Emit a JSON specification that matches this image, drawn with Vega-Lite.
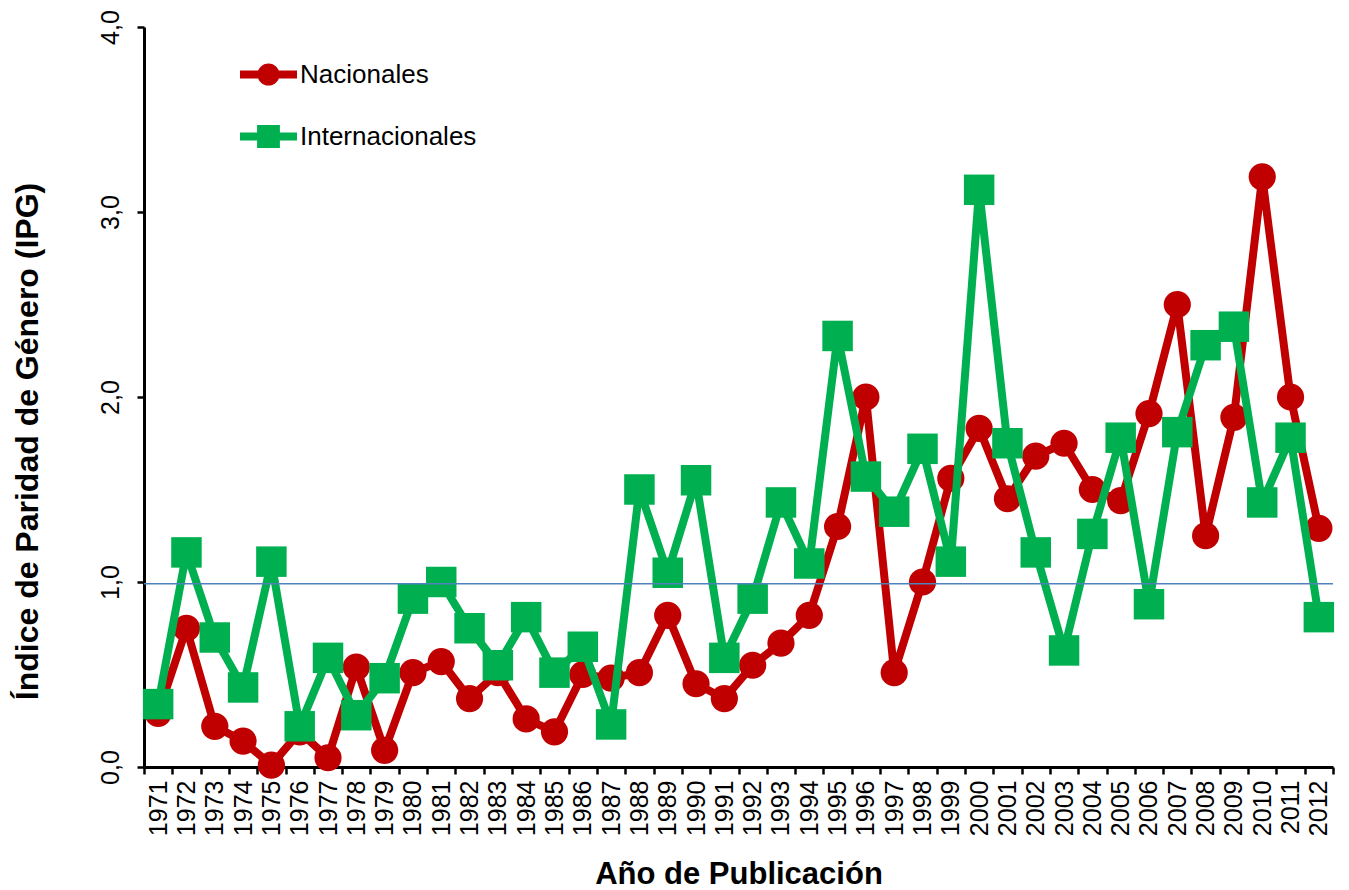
{
  "$schema": "https://vega.github.io/schema/vega-lite/v6.json",
  "width": 1189,
  "height": 740,
  "autosize": "none",
  "padding": {"left": 144, "top": 27, "right": 16, "bottom": 123},
  "background": "white",
  "config": {"view": {"stroke": null}, "font": "Liberation Sans"},
  "data": {
    "values": [
      {"year": "1971", "serie": "Nacionales", "ipg": 0.29},
      {"year": "1972", "serie": "Nacionales", "ipg": 0.75},
      {"year": "1973", "serie": "Nacionales", "ipg": 0.22},
      {"year": "1974", "serie": "Nacionales", "ipg": 0.14},
      {"year": "1975", "serie": "Nacionales", "ipg": 0.01},
      {"year": "1976", "serie": "Nacionales", "ipg": 0.19},
      {"year": "1977", "serie": "Nacionales", "ipg": 0.05},
      {"year": "1978", "serie": "Nacionales", "ipg": 0.54},
      {"year": "1979", "serie": "Nacionales", "ipg": 0.09},
      {"year": "1980", "serie": "Nacionales", "ipg": 0.51},
      {"year": "1981", "serie": "Nacionales", "ipg": 0.57},
      {"year": "1982", "serie": "Nacionales", "ipg": 0.37},
      {"year": "1983", "serie": "Nacionales", "ipg": 0.51},
      {"year": "1984", "serie": "Nacionales", "ipg": 0.26},
      {"year": "1985", "serie": "Nacionales", "ipg": 0.19},
      {"year": "1986", "serie": "Nacionales", "ipg": 0.5},
      {"year": "1987", "serie": "Nacionales", "ipg": 0.48},
      {"year": "1988", "serie": "Nacionales", "ipg": 0.51},
      {"year": "1989", "serie": "Nacionales", "ipg": 0.82},
      {"year": "1990", "serie": "Nacionales", "ipg": 0.45},
      {"year": "1991", "serie": "Nacionales", "ipg": 0.37},
      {"year": "1992", "serie": "Nacionales", "ipg": 0.55},
      {"year": "1993", "serie": "Nacionales", "ipg": 0.67},
      {"year": "1994", "serie": "Nacionales", "ipg": 0.82},
      {"year": "1995", "serie": "Nacionales", "ipg": 1.3},
      {"year": "1996", "serie": "Nacionales", "ipg": 2.0},
      {"year": "1997", "serie": "Nacionales", "ipg": 0.51},
      {"year": "1998", "serie": "Nacionales", "ipg": 1.0},
      {"year": "1999", "serie": "Nacionales", "ipg": 1.56},
      {"year": "2000", "serie": "Nacionales", "ipg": 1.83},
      {"year": "2001", "serie": "Nacionales", "ipg": 1.45},
      {"year": "2002", "serie": "Nacionales", "ipg": 1.68},
      {"year": "2003", "serie": "Nacionales", "ipg": 1.75},
      {"year": "2004", "serie": "Nacionales", "ipg": 1.5},
      {"year": "2005", "serie": "Nacionales", "ipg": 1.44},
      {"year": "2006", "serie": "Nacionales", "ipg": 1.91},
      {"year": "2007", "serie": "Nacionales", "ipg": 2.5},
      {"year": "2008", "serie": "Nacionales", "ipg": 1.25},
      {"year": "2009", "serie": "Nacionales", "ipg": 1.89},
      {"year": "2010", "serie": "Nacionales", "ipg": 3.19},
      {"year": "2011", "serie": "Nacionales", "ipg": 2.0},
      {"year": "2012", "serie": "Nacionales", "ipg": 1.29},
      {"year": "1971", "serie": "Internacionales", "ipg": 0.34},
      {"year": "1972", "serie": "Internacionales", "ipg": 1.16},
      {"year": "1973", "serie": "Internacionales", "ipg": 0.7},
      {"year": "1974", "serie": "Internacionales", "ipg": 0.43},
      {"year": "1975", "serie": "Internacionales", "ipg": 1.11},
      {"year": "1976", "serie": "Internacionales", "ipg": 0.22},
      {"year": "1977", "serie": "Internacionales", "ipg": 0.59},
      {"year": "1978", "serie": "Internacionales", "ipg": 0.28},
      {"year": "1979", "serie": "Internacionales", "ipg": 0.48},
      {"year": "1980", "serie": "Internacionales", "ipg": 0.91},
      {"year": "1981", "serie": "Internacionales", "ipg": 1.0},
      {"year": "1982", "serie": "Internacionales", "ipg": 0.75},
      {"year": "1983", "serie": "Internacionales", "ipg": 0.55},
      {"year": "1984", "serie": "Internacionales", "ipg": 0.81},
      {"year": "1985", "serie": "Internacionales", "ipg": 0.51},
      {"year": "1986", "serie": "Internacionales", "ipg": 0.65},
      {"year": "1987", "serie": "Internacionales", "ipg": 0.23},
      {"year": "1988", "serie": "Internacionales", "ipg": 1.5},
      {"year": "1989", "serie": "Internacionales", "ipg": 1.05},
      {"year": "1990", "serie": "Internacionales", "ipg": 1.55},
      {"year": "1991", "serie": "Internacionales", "ipg": 0.59},
      {"year": "1992", "serie": "Internacionales", "ipg": 0.91},
      {"year": "1993", "serie": "Internacionales", "ipg": 1.43},
      {"year": "1994", "serie": "Internacionales", "ipg": 1.1},
      {"year": "1995", "serie": "Internacionales", "ipg": 2.33},
      {"year": "1996", "serie": "Internacionales", "ipg": 1.57},
      {"year": "1997", "serie": "Internacionales", "ipg": 1.38},
      {"year": "1998", "serie": "Internacionales", "ipg": 1.72},
      {"year": "1999", "serie": "Internacionales", "ipg": 1.11},
      {"year": "2000", "serie": "Internacionales", "ipg": 3.12},
      {"year": "2001", "serie": "Internacionales", "ipg": 1.75},
      {"year": "2002", "serie": "Internacionales", "ipg": 1.16},
      {"year": "2003", "serie": "Internacionales", "ipg": 0.63},
      {"year": "2004", "serie": "Internacionales", "ipg": 1.26},
      {"year": "2005", "serie": "Internacionales", "ipg": 1.78},
      {"year": "2006", "serie": "Internacionales", "ipg": 0.88},
      {"year": "2007", "serie": "Internacionales", "ipg": 1.81},
      {"year": "2008", "serie": "Internacionales", "ipg": 2.28},
      {"year": "2009", "serie": "Internacionales", "ipg": 2.38},
      {"year": "2010", "serie": "Internacionales", "ipg": 1.43},
      {"year": "2011", "serie": "Internacionales", "ipg": 1.78},
      {"year": "2012", "serie": "Internacionales", "ipg": 0.81}
    ]
  },
  "layer": [
    {
      "encoding": {
        "x": {
          "field": "year",
          "type": "ordinal",
          "sort": null,
          "scale": {"type": "band", "paddingInner": 0, "paddingOuter": 0},
          "axis": {
            "title": "Año de Publicación",
            "titleFont": "Liberation Sans",
            "titleFontSize": 31,
            "titleFontWeight": "bold",
            "titleColor": "black",
            "titleBaseline": "alphabetic",
            "titleAlign": "center",
            "titleX": 594.5,
            "titleY": 116,
            "labelAngle": -90,
            "labelAlign": "right",
            "labelBaseline": "middle",
            "labelFont": "Liberation Sans",
            "labelFontSize": 25,
            "labelColor": "black",
            "labelPadding": 6,
            "labelOverlap": false,
            "tickBand": "extent",
            "tickSize": 7,
            "tickWidth": 2.5,
            "tickColor": "black",
            "domainColor": "black",
            "domainWidth": 3,
            "grid": false
          }
        },
        "y": {
          "field": "ipg",
          "type": "quantitative",
          "scale": {"domain": [0, 4], "nice": false, "zero": true},
          "axis": {
            "title": "Índice de Paridad de Género (IPG)",
            "titleFont": "Liberation Sans",
            "titleFontSize": 32,
            "titleFontWeight": "bold",
            "titleColor": "black",
            "titleAngle": -90,
            "titleAlign": "center",
            "titleBaseline": "bottom",
            "titleX": -100,
            "titleY": 414,
            "values": [0, 1, 2, 3, 4],
            "labelExpr": "replace(format(datum.value, '.1f'), '.', ',')",
            "labelAngle": -90,
            "labelAlign": "center",
            "labelBaseline": "bottom",
            "labelFont": "Liberation Sans",
            "labelFontSize": 25,
            "labelColor": "black",
            "labelPadding": 14,
            "tickSize": 7,
            "tickWidth": 2.5,
            "tickColor": "black",
            "domainColor": "black",
            "domainWidth": 3,
            "grid": false
          }
        }
      },
      "resolve": {"scale": {"color": "independent"}, "legend": {"color": "independent"}},
      "layer": [
        {
          "transform": [{"filter": "datum.serie === 'Nacionales'"}],
          "mark": {"type": "line", "color": "#C00000", "strokeWidth": 8, "strokeJoin": "round"}
        },
        {
          "transform": [{"filter": "datum.serie === 'Nacionales'"}],
          "mark": {"type": "point", "shape": "circle", "filled": true, "size": 740, "opacity": 1, "strokeWidth": 0},
          "encoding": {
            "color": {
              "field": "serie",
              "type": "nominal",
              "scale": {"domain": ["Nacionales"], "range": ["#C00000"]},
              "legend": {
                "orient": "none",
                "legendX": 96,
                "legendY": 19,
                "title": null,
                "padding": 0,
                "symbolType": "M-1,-0.14L1,-0.14L1,0.14L-1,0.14Z M-0.39,0A0.39,0.39,0,1,1,0.39,0A0.39,0.39,0,1,1,-0.39,0Z",
                "symbolSize": 3249,
                "symbolStrokeWidth": 0,
                "symbolOpacity": 1,
                "labelFont": "Liberation Sans",
                "labelFontSize": 26,
                "labelColor": "black",
                "labelOffset": 3,
                "labelLimit": 0
              }
            }
          }
        },
        {
          "transform": [{"filter": "datum.serie === 'Internacionales'"}],
          "mark": {"type": "line", "color": "#00B050", "strokeWidth": 8, "strokeJoin": "round"}
        },
        {
          "transform": [{"filter": "datum.serie === 'Internacionales'"}],
          "mark": {"type": "point", "shape": "square", "filled": true, "size": 930, "opacity": 1, "strokeWidth": 0},
          "encoding": {
            "color": {
              "field": "serie",
              "type": "nominal",
              "scale": {"domain": ["Internacionales"], "range": ["#00B050"]},
              "legend": {
                "orient": "none",
                "legendX": 96,
                "legendY": 81,
                "title": null,
                "padding": 0,
                "symbolType": "M-1,-0.14L1,-0.14L1,0.14L-1,0.14Z M-0.4,-0.4L0.4,-0.4L0.4,0.4L-0.4,0.4Z",
                "symbolSize": 3249,
                "symbolStrokeWidth": 0,
                "symbolOpacity": 1,
                "labelFont": "Liberation Sans",
                "labelFontSize": 26,
                "labelColor": "black",
                "labelOffset": 3,
                "labelLimit": 0
              }
            }
          }
        }
      ]
    },
    {
      "data": {"values": [{}]},
      "mark": {"type": "rule", "color": "#4F81BD", "strokeWidth": 1.5},
      "encoding": {"y": {"datum": 0.99}}
    }
  ]
}
